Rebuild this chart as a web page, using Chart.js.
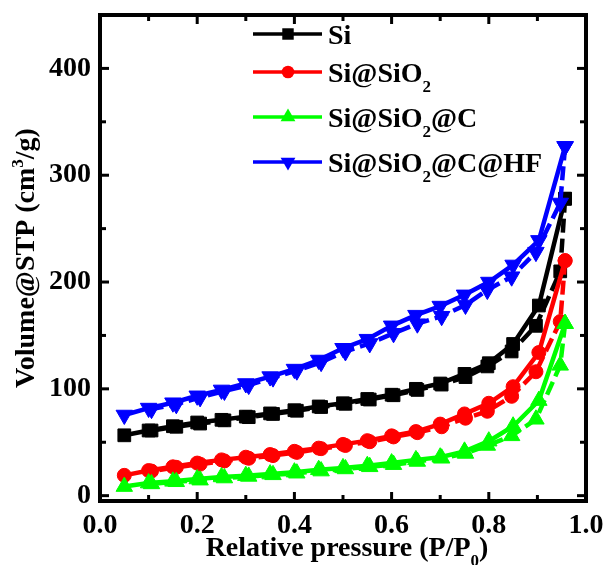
<!DOCTYPE html>
<html lang="en">
<head>
<meta charset="UTF-8" />
<title>N2 adsorption-desorption isotherms</title>
<style>
  body { margin: 0; background: #fff; }
  .wrap { width: 607px; height: 565px; }
</style>
</head>
<body>
<div class="wrap"><canvas id="isoChart" width="607" height="565"></canvas></div>

<script src="https://cdn.jsdelivr.net/npm/chart.js"></script>
<script>
// relative pressure points (adsorption goes up, desorption comes back down)
const xAds = [0.05, 0.10, 0.15, 0.20, 0.25, 0.30, 0.35, 0.40, 0.45, 0.50, 0.55, 0.60, 0.65, 0.70, 0.75, 0.80, 0.85, 0.903, 0.957];
const xDes = [0.957, 0.947, 0.897, 0.847, 0.797, 0.752, 0.703, 0.653, 0.604, 0.555, 0.505, 0.455, 0.405, 0.356, 0.306, 0.256, 0.206, 0.157, 0.106];

const siAds = [56.5, 61, 65, 68.5, 71, 74, 77, 80, 83.5, 86.5, 90.5, 94.5, 100, 105, 114, 124, 142, 178, 278];
const siDes = [278, 210, 159, 135, 121, 111, 104, 99, 94, 90, 86, 83, 79.5, 76.5, 73.5, 70.5, 67.5, 64.5, 61];

const sio2Ads = [19, 23.5, 27, 30.5, 33.5, 36, 38.5, 41.5, 44.5, 48, 51.5, 56, 60, 67, 76.5, 86.5, 102, 134, 220];
const sio2Des = [220, 163, 116, 93, 79, 72.5, 64.5, 59, 55, 50.5, 47, 44, 40.5, 37.5, 35, 32.5, 29.5, 26.5, 23];

const cAds = [8.5, 11.8, 13.4, 15.6, 17.5, 18.7, 20.2, 22, 24.3, 26, 28, 30.5, 33.5, 36, 41.5, 51, 65, 89, 161];
const cDes = [161, 122, 71.5, 56, 47, 39.5, 35, 32, 29, 27, 25, 23, 21, 19.5, 18, 16.5, 14.5, 13, 11];

const hfAds = [75.5, 82, 87, 93.5, 99, 105, 111.5, 118.5, 127, 138, 146.5, 159, 169, 177.5, 188, 200, 216, 239, 327];
const hfDes = [327, 274, 228, 205, 192.5, 178.5, 168, 161, 152, 142.5, 135, 125, 117, 110.5, 103.5, 98, 92, 85.5, 81];

const xMajor = [0, 0.2, 0.4, 0.6, 0.8, 1.0];
const xMinor = [0.1, 0.3, 0.5, 0.7, 0.9];
const yMajor = [0, 100, 200, 300, 400];
const yMinor = [50, 150, 250, 350];

// legend labels, split into [text, 'sub'|'sup'|''] pieces
const legendLabels = [
  [['Si', '']],
  [['Si@SiO', ''], ['2', 'sub']],
  [['Si@SiO', ''], ['2', 'sub'], ['@C', '']],
  [['Si@SiO', ''], ['2', 'sub'], ['@C@HF', '']]
];
const xTitle = [['Relative pressure (P/P', ''], ['0', 'sub'], [')', '']];
const yTitle = [['Volume@STP (cm', ''], ['3', 'sup'], ['/g)', '']];

const FONT = "'Liberation Serif', 'Times New Roman', serif";
const colors = ['#000000', '#ff0000', '#00ff00', '#0000ff'];
const markers = [
  { style: 'rect', radius: 9, rotation: 0 },
  { style: 'circle', radius: 7, rotation: 0 },
  { style: 'triangle', radius: 9.5, rotation: 0 },
  { style: 'triangle', radius: 9.5, rotation: 180 }
];

function pts(xs, ys) {
  return xs.map((x, i) => ({ x: x, y: ys[i] }));
}

const pairs = [[siAds, siDes], [sio2Ads, sio2Des], [cAds, cDes], [hfAds, hfDes]];
const datasets = [];
pairs.forEach((p, i) => {
  const common = {
    borderColor: colors[i],
    backgroundColor: colors[i],
    borderWidth: 4.5,
    pointStyle: markers[i].style,
    pointRadius: markers[i].radius,
    pointRotation: markers[i].rotation,
    pointBorderWidth: 1,
    tension: 0,
    order: 4 - i
  };
  datasets.push(Object.assign({ label: legendLabels[i].map(t => t[0]).join('') + ' ads', data: pts(xAds, p[0]) }, common));
  datasets.push(Object.assign({ label: legendLabels[i].map(t => t[0]).join('') + ' des', data: pts(xDes, p[1]), borderDash: [14, 6] }, common));
});

function drawRich(ctx, parts, x, y, size, align) {
  const small = Math.round(size * 0.6);
  let total = 0;
  parts.forEach(p => {
    ctx.font = 'bold ' + (p[1] ? small : size) + 'px ' + FONT;
    total += ctx.measureText(p[0]).width;
  });
  let cx = align === 'center' ? x - total / 2 : x;
  ctx.textAlign = 'left';
  ctx.textBaseline = 'alphabetic';
  parts.forEach(p => {
    ctx.font = 'bold ' + (p[1] ? small : size) + 'px ' + FONT;
    let dy = 0;
    if (p[1] === 'sub') dy = size * 0.36;
    if (p[1] === 'sup') dy = -size * 0.4;
    ctx.fillText(p[0], cx, y + dy);
    cx += ctx.measureText(p[0]).width;
  });
}

function drawMarker(ctx, m, x, y, color) {
  ctx.fillStyle = color;
  ctx.beginPath();
  const r = m.radius * 0.9;
  if (m.style === 'rect') {
    const h = r * Math.SQRT1_2;
    ctx.rect(x - h, y - h, 2 * h, 2 * h);
  } else if (m.style === 'circle') {
    ctx.arc(x, y, r, 0, Math.PI * 2);
  } else {
    const s = m.rotation ? -1 : 1;
    ctx.moveTo(x, y - s * r);
    ctx.lineTo(x + r * 0.866, y + s * r * 0.5);
    ctx.lineTo(x - r * 0.866, y + s * r * 0.5);
    ctx.closePath();
  }
  ctx.fill();
}

const decorPlugin = {
  id: 'decor',
  afterDraw(chart) {
    const ctx = chart.ctx;
    const a = chart.chartArea;
    const sx = chart.scales.x, sy = chart.scales.y;
    ctx.save();

    // frame and inward ticks on all four sides
    ctx.strokeStyle = '#000';
    ctx.lineWidth = 4;
    ctx.strokeRect(a.left, a.top, a.right - a.left, a.bottom - a.top);
    ctx.lineWidth = 3;
    function seg(x1, y1, x2, y2) {
      ctx.beginPath(); ctx.moveTo(x1, y1); ctx.lineTo(x2, y2); ctx.stroke();
    }
    xMajor.concat(xMinor).forEach(v => {
      const len = xMajor.includes(v) ? 9 : 6;
      const px = sx.getPixelForValue(v);
      seg(px, a.bottom, px, a.bottom - len);
      seg(px, a.top, px, a.top + len);
    });
    yMajor.concat(yMinor).forEach(v => {
      const len = yMajor.includes(v) ? 9 : 6;
      const py = sy.getPixelForValue(v);
      seg(a.left, py, a.left + len, py);
      seg(a.right, py, a.right - len, py);
    });

    // legend
    const rowY = [34, 72, 117, 162];
    legendLabels.forEach((lab, i) => {
      ctx.strokeStyle = colors[i];
      ctx.lineWidth = 3.5;
      seg(253, rowY[i], 322, rowY[i]);
      drawMarker(ctx, markers[i], 288, rowY[i], colors[i]);
      ctx.fillStyle = '#000';
      drawRich(ctx, lab, 328, rowY[i] + 10, 28, 'left');
    });

    // axis titles
    ctx.fillStyle = '#000';
    drawRich(ctx, xTitle, (a.left + a.right) / 2 + 4, 556, 28, 'center');
    ctx.translate(34, (a.top + a.bottom) / 2);
    ctx.rotate(-Math.PI / 2);
    drawRich(ctx, yTitle, 0, 0, 28, 'center');
    ctx.restore();
  }
};

new Chart(document.getElementById('isoChart'), {
  type: 'line',
  data: { datasets: datasets },
  options: {
    responsive: false,
    animation: false,
    layout: { padding: { top: 15, right: 21, left: 0, bottom: 0 } },
    plugins: { legend: { display: false }, tooltip: { enabled: false } },
    scales: {
      x: {
        type: 'linear',
        min: 0,
        max: 1,
        afterBuildTicks: s => { s.ticks = xMajor.map(v => ({ value: v })); },
        afterFit: s => { s.height = 64; s.paddingLeft = 0; s.paddingRight = 0; },
        grid: { display: false, drawTicks: false },
        border: { display: false },
        ticks: {
          color: '#000',
          padding: 8,
          maxRotation: 0,
          font: { family: FONT, size: 28, weight: 'bold' },
          callback: v => v.toFixed(1)
        }
      },
      y: {
        min: -5,
        max: 450,
        afterBuildTicks: s => { s.ticks = yMajor.map(v => ({ value: v })); },
        afterFit: s => { s.width = 100; s.paddingTop = 0; s.paddingBottom = 0; },
        grid: { display: false, drawTicks: false },
        border: { display: false },
        ticks: {
          color: '#000',
          padding: 9,
          font: { family: FONT, size: 28, weight: 'bold' }
        }
      }
    }
  },
  plugins: [decorPlugin]
});
</script>
</body>
</html>
